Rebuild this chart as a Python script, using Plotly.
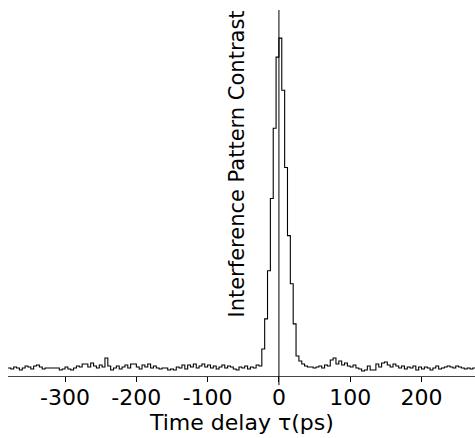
import plotly.graph_objects as go

# Bin layout (ps): 4-ps bins
bin_width = 4
first_edge = -380

# Signal (arbitrary units) per 4-ps bin, left to right
left_noise = [8, 7, 9, 8, 6, 8, 10, 9, 7, 10, 11, 9, 7, 8, 8, 8, 8, 8, 6, 7, 9,
              7, 6, 8, 10, 9, 12, 12, 9, 13, 10, 8, 11, 9, 18, 10, 6, 8, 10, 7, 9,
              11, 8, 12, 12, 9, 7, 11, 9, 12, 8, 10, 8, 7, 8, 8, 6, 7, 6, 9, 8,
              11, 7, 11, 9, 12, 8, 10, 12, 9, 11, 8, 10, 7, 9, 11, 8, 10, 9, 7, 6,
              9, 8, 10, 7, 9, 8, 11]
peak = [10, 27, 57, 105, 177, 247, 318, 337, 285, 208, 140, 92, 52, 20, 15, 12, 10, 9]
right_noise = [9, 8, 9, 10, 8, 11, 10, 16, 18, 12, 15, 11, 13, 10, 9, 11, 8, 7, 5, 6,
               10, 6, 6, 12, 9, 13, 14, 11, 9, 12, 10, 8, 10, 7, 9, 8, 10, 6, 9, 7,
               9, 8, 6, 8, 10, 7, 8, 9, 10, 9, 8, 10, 9, 8, 7, 8, 7, 8]

values = left_noise + peak + right_noise
edges = [first_edge + bin_width * i for i in range(len(values) + 1)]

tick_vals = [-300, -200, -100, 0, 100, 200]
tick_text = ["-300", "-200", "-100", "0", "100", "200"]

x_range = [-380, 275]
y_range = [0, 365]

font_family = "DejaVu Sans, Arial, sans-serif"

fig = go.Figure()
fig.add_trace(go.Scatter(
    x=edges, y=values + [values[-1]],
    mode="lines", line=dict(shape="hv", color="black", width=1.1),
    hoverinfo="skip", showlegend=False,
))

fig.add_shape(type="line", xref="x", yref="paper", x0=0, x1=0, y0=-0.025, y1=1,
              line=dict(color="black", width=1))

fig.add_annotation(
    text="Interference Pattern Contrast", textangle=-90,
    xref="paper", yref="paper", x=0.49, y=0.58,
    showarrow=False, font=dict(family=font_family, size=21, color="black"),
)

fig.add_annotation(
    text="Time delay τ(ps)",
    xref="paper", yref="paper", x=0.5, y=-0.128, xanchor="center", yanchor="middle",
    showarrow=False, font=dict(family=font_family, size=22, color="black"),
)

fig.update_layout(
    width=475, height=438,
    margin=dict(l=8, r=0, t=10, b=62),
    paper_bgcolor="white", plot_bgcolor="white",
    font=dict(family=font_family, color="black"),
    xaxis=dict(
        range=x_range, showgrid=False, zeroline=False,
        showline=True, linecolor="#444", linewidth=1,
        ticks="outside", ticklen=5, tickcolor="black", tickwidth=1,
        tickvals=tick_vals, ticktext=tick_text, ticklabelstandoff=-3,
        tickfont=dict(size=22, family=font_family, color="black"),
    ),
    yaxis=dict(range=y_range, visible=False, showgrid=False, zeroline=False),
)

fig.write_html("out.html", config={"displayModeBar": False},
               post_script="document.body.style.margin='0';")
